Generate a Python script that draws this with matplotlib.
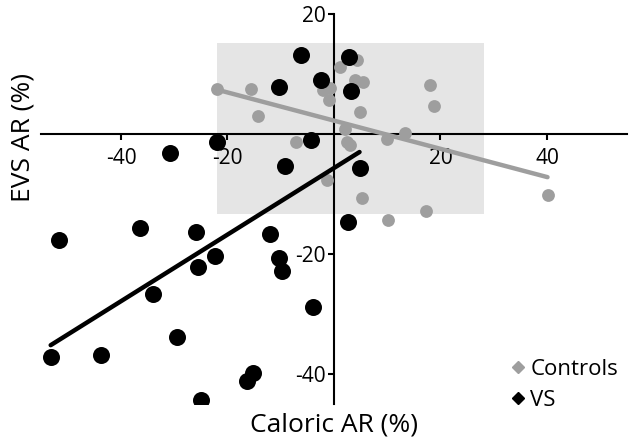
import matplotlib
matplotlib.use("Agg")
import matplotlib.pyplot as plt
from matplotlib.patches import Rectangle
from matplotlib.lines import Line2D
import numpy as np

plt.rcParams['font.family'] = ['Open Sans', 'DejaVu Sans']

# VS group (black)
vs_x = [-6.2, -2.5, -10.3, 2.9, 3.2, -4.4, -22.0, -9.2, 4.8, -30.8, 2.7,
        -51.6, -36.5, -26.0, -12.1, -22.3, -25.5, -10.3, -9.8, -34.0, -4.0,
        -29.5, -53.2, -43.8, -15.3, -16.4, -25.0]
vs_y = [13.2, 9.0, 7.8, 12.9, 7.2, -1.0, -1.4, -5.3, -5.6, -3.2, -14.6,
        -17.7, -15.6, -16.4, -16.7, -20.4, -22.1, -20.6, -22.8, -26.6, -28.8,
        -33.8, -37.1, -36.8, -39.9, -41.2, -44.4]

# Controls (grey)
ctrl_x = [-22.0, -15.5, -14.3, 1.1, 4.3, 3.9, 5.5, -2.0, -0.75, -0.9, 4.8,
          18.0, 18.8, 2.1, 2.4, 3.0, 10.0, 13.3, -1.3, 5.2, 40.1, 10.2, 17.2,
          -7.2]
ctrl_y = [7.5, 7.5, 3.0, 11.2, 12.4, 9.0, 8.7, 7.3, 7.6, 5.6, 3.6,
          8.1, 4.6, 0.9, -1.3, -1.8, -0.9, 0.1, -7.7, -10.6, -10.2, -14.3, -12.8,
          -1.3]

# Regression lines (slope, intercept)
vs_fit = [0.555, -5.67]
ctrl_fit = [-0.235, 2.23]

# Shaded normal range (x range, y range)
shade_x = [-22.0, 28.2]
shade_y = [-13.3, 15.2]

xticks = [-40, -20, 20, 40]
yticks = [-40, -20, 20]

GREY = '#9e9e9e'

fig = plt.figure(figsize=(6.3, 4.46), dpi=100)
ax = fig.add_axes([41.1 / 630, 1 - 404 / 446, 585.75 / 630, 390 / 446])
ax.set_xlim(-55, 55)
ax.set_ylim(-45, 20)

ax.add_patch(Rectangle((shade_x[0], shade_y[0]), shade_x[1] - shade_x[0],
                       shade_y[1] - shade_y[0], facecolor='#e5e5e5',
                       edgecolor='none', zorder=0))

for s in ['top', 'right']:
    ax.spines[s].set_visible(False)
ax.spines['left'].set_position(('data', 0))
ax.spines['bottom'].set_position(('data', 0))
for s in ['left', 'bottom']:
    ax.spines[s].set_linewidth(1.5)
    ax.spines[s].set_zorder(1)

ax.set_xticks(xticks)
ax.set_yticks(yticks)
ax.set_xticklabels([str(t) for t in xticks])
ax.set_yticklabels([str(t) for t in yticks])
ax.tick_params(axis='both', direction='out', length=4, width=1.5,
               labelsize=15, colors='black')
ax.tick_params(axis='x', pad=6)
ax.tick_params(axis='y', pad=2)

# controls
ax.scatter(ctrl_x, ctrl_y, s=85, color=GREY, zorder=2, linewidths=0)
cx = np.array([min(ctrl_x), max(ctrl_x)])
ax.plot(cx, ctrl_fit[0] * cx + ctrl_fit[1], color=GREY, lw=3.2, zorder=3,
        solid_capstyle='round')

# VS
ax.scatter(vs_x, vs_y, s=150, color='black', zorder=4, linewidths=0)
vx = np.array([min(vs_x), max(vs_x)])
ax.plot(vx, vs_fit[0] * vx + vs_fit[1], color='black', lw=3.2, zorder=5,
        solid_capstyle='round')

handles = [Line2D([], [], marker='D', ls='none', color=GREY, markersize=6.5),
           Line2D([], [], marker='D', ls='none', color='black', markersize=6.5)]
ax.legend(handles, ['Controls', 'VS'], loc='lower right',
          bbox_to_anchor=(1.0, -0.04), frameon=False, fontsize=16,
          handletextpad=0.1, handlelength=0.9, labelspacing=0.45,
          borderaxespad=0)

fig.text(334.5 / 630, 1 - 425 / 446, 'Caloric AR (%)', ha='center',
         va='center', fontsize=19)
fig.text(23 / 630, 1 - 137 / 446, 'EVS AR (%)', ha='center', va='center',
         fontsize=19, rotation=90)

fig.savefig('out.png', dpi=100)
